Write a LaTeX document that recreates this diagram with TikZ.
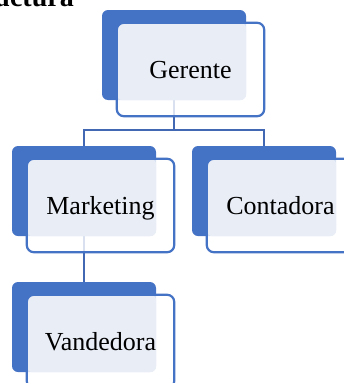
\documentclass[tikz,border=0pt]{standalone}
\usepackage{fontspec}
\setmainfont{Liberation Serif}
\pgfdeclarelayer{bg}
\pgfsetlayers{bg,main}
\definecolor{dark}{HTML}{4472C4}
\definecolor{light}{HTML}{E9EDF6}
\definecolor{conn}{HTML}{4268B4}
\tikzset{
  darkbox/.style={fill=dark, rounded corners=6pt, minimum width=144pt, minimum height=90pt, inner sep=0pt, draw=none},
  frontbox/.style={fill=white, fill opacity=0.8, rounded corners=7pt, minimum width=147pt, minimum height=93pt, inner sep=0pt, draw=none},
  outline/.style={draw=dark, line width=2.2pt, rounded corners=7pt},
  lightfill/.style={fill=light, rounded corners=6pt},
  label/.style={font=\fontsize{26}{30}\selectfont, inner sep=0pt, anchor=base, yshift=-9pt},
  connline/.style={draw=conn, line width=2.1pt},
}
\newcommand{\orgbox}[4]{% name, x, y (dark top-left), text
  \node[darkbox] (#1d) at (#2+72, #3+45) {};
  \node[frontbox] (#1f) at (#2+88.5, #3+59.5) {};
  \path[lightfill] (#1f.north west) rectangle (#1d.south east);
  \draw[outline] (#1f.north west) rectangle (#1f.south east);
  \node[label] (#1) at (#1f.center) {#4};
}
\begin{document}
\begin{tikzpicture}[x=1pt, y=-1pt]
\useasboundingbox (0,0) rectangle (344,383);
\node[anchor=base east, font=\bfseries\fontsize{28}{30}\selectfont, inner sep=0pt] (title) at (74,6.5) {Estructura};
\orgbox{g}{102}{10}{Gerente}
\orgbox{m}{12}{146}{Marketing}
\orgbox{c}{192}{146}{Contadora}
\orgbox{v}{12}{282}{Vandedora}
\coordinate (bus) at (0,130);
\begin{pgfonlayer}{bg}
  \draw[connline] (gd.center) -- (gd.center |- bus);
  \draw[connline] (md.north) |- (cd.north |- bus) -- (cd.north);
  \draw[connline] (md.center) -- (vd.north);
\end{pgfonlayer}
\end{tikzpicture}
\end{document}
